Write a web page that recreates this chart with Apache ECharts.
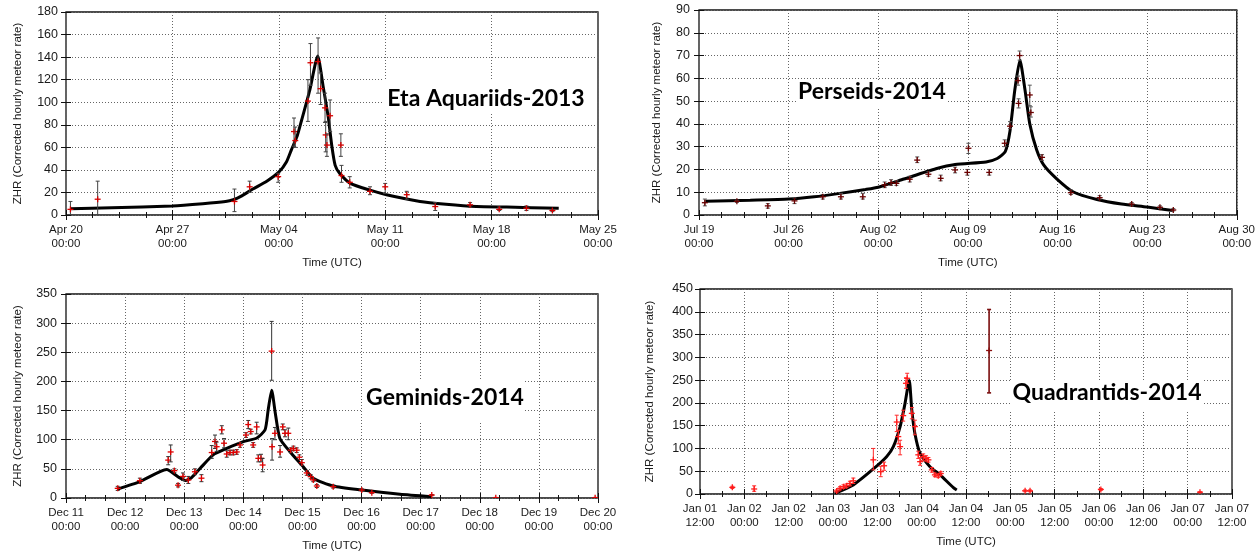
<!DOCTYPE html>
<html>
<head>
<meta charset="utf-8">
<script src="https://cdn.jsdelivr.net/npm/echarts/dist/echarts.min.js"></script>
<style>
html,body{margin:0;padding:0;background:#fff;}
#chart{width:1258px;height:553px;}
</style>
</head>
<body>
<div id="chart"></div>
<script>
// ---------------- DATA ----------------
// Eta Aquariids 2013
const etaCurveTime = ['2013-04-20 07:00','2013-04-23 00:00','2013-04-27 00:00','2013-04-29 00:00','2013-04-30 12:00','2013-05-01 00:00','2013-05-01 12:00','2013-05-02 07:00','2013-05-03 05:00','2013-05-04 00:00','2013-05-04 12:00','2013-05-04 20:00','2013-05-05 05:00','2013-05-05 12:00','2013-05-06 01:00','2013-05-06 13:30','2013-05-06 22:00','2013-05-07 06:00','2013-05-07 12:00','2013-05-07 17:00','2013-05-08 00:00','2013-05-08 17:00','2013-05-10 00:00','2013-05-11 02:00','2013-05-13 07:00','2013-05-15 00:00','2013-05-17 00:00','2013-05-19 00:00','2013-05-22 10:00'];
const etaCurveZHR = [5.5,6.5,8,10,12,13.5,16.5,23,30,38,47,58,70,84,111,141,114,87,60,44,37,28,22,18,12,9.5,7.5,7,6];
const etaObsTime = ['2013-04-20 07:00','2013-04-22 02:00','2013-05-01 02:00','2013-05-02 02:00','2013-05-03 23:00','2013-05-05 00:00','2013-05-05 02:00','2013-05-05 22:00','2013-05-06 02:00','2013-05-06 14:00','2013-05-06 18:00','2013-05-07 01:00','2013-05-07 02:00','2013-05-07 04:00','2013-05-07 09:00','2013-05-08 02:00','2013-05-08 03:00','2013-05-08 16:00','2013-05-10 00:00','2013-05-11 00:00','2013-05-12 10:00','2013-05-14 07:00','2013-05-16 14:00','2013-05-18 12:00','2013-05-20 07:00','2013-05-22 00:00'];
const etaObsZHR  = [5,14,12,25,34,74,66,101,135,136,112,95,71,62,88,62,35,29,21,25,18,7.5,9,5,6,4];
const etaObsLow  = [0,0,3,20,29,61,60,83,115,108,98,82,56,52,74,52,29,24,18,19,14,4,7,4,4,3];
const etaObsHigh = [12,30,23,30,37,86,78,120,152,157,126,108,83,72,102,72,44,34,25,28,21,11,11,7,8,5];

// Perseids 2014
const perCurveTime = ['2014-07-19 12:00','2014-07-23 00:00','2014-07-26 00:00','2014-07-28 00:00','2014-07-30 00:00','2014-08-01 00:00','2014-08-02 00:00','2014-08-04 00:00','2014-08-06 12:00','2014-08-08 00:00','2014-08-10 10:00','2014-08-11 07:00','2014-08-11 22:00','2014-08-12 07:00','2014-08-12 16:00','2014-08-13 01:30','2014-08-13 11:00','2014-08-13 20:00','2014-08-14 09:00','2014-08-14 22:00','2014-08-15 22:00','2014-08-17 05:00','2014-08-19 02:00','2014-08-21 00:00','2014-08-23 00:00','2014-08-25 00:00'];
const perCurveZHR = [6,6.5,7,8,9.5,11.2,12.2,15.8,20.3,22.2,23.3,24.8,27.8,37,55,68,55,40,28.5,22,16,10.2,6.8,4.8,3.5,2];
const perObsTime = ['2014-07-19 11:00','2014-07-21 23:00','2014-07-24 09:00','2014-07-26 11:00','2014-07-28 16:00','2014-07-30 02:00','2014-07-31 19:00','2014-08-02 12:00','2014-08-03 00:00','2014-08-03 10:00','2014-08-04 11:00','2014-08-05 01:00','2014-08-05 22:00','2014-08-06 21:00','2014-08-08 00:00','2014-08-08 23:00','2014-08-09 01:00','2014-08-10 16:00','2014-08-11 21:00','2014-08-12 07:00','2014-08-12 22:00','2014-08-12 23:00','2014-08-13 01:00','2014-08-13 20:00','2014-08-13 22:00','2014-08-14 19:00','2014-08-17 01:00','2014-08-19 07:00','2014-08-21 19:00','2014-08-24 00:00','2014-08-25 01:00'];
const perObsZHR  = [5.4,6,4,6.2,8,8,8,13.2,14.2,13.9,15.7,24.1,17.9,16.1,19.8,18.7,29.3,18.7,31.5,39,59,49,70,52.7,45,25.3,9.8,7.6,4.8,3.4,2.2];
const perObsLow  = [4,5.5,3,5,7,7,7,12,13,13,14.5,23,17,15,18.5,17.5,27,17.5,30,38,57,47,68,48,43,24,9,7,4,2.8,1.8];
const perObsHigh = [7,6.5,5,7.5,9,9.5,9.5,14.5,15.5,15,17,25.5,19,17.5,21,20,31.5,20,33,41,61,51,72,57,47.5,26.5,11,8.5,5.5,4,2.8];

// Geminids 2014
const gemCurveTime = ['2014-12-11 20:40','2014-12-12 06:00','2014-12-12 16:50','2014-12-12 22:00','2014-12-13 00:30','2014-12-13 03:00','2014-12-13 06:30','2014-12-13 11:45','2014-12-13 17:15','2014-12-14 00:00','2014-12-14 05:30','2014-12-14 08:50','2014-12-14 10:05','2014-12-14 11:30','2014-12-14 13:00','2014-12-14 14:50','2014-12-14 19:00','2014-12-15 00:15','2014-12-15 04:20','2014-12-15 12:30','2014-12-15 23:15','2014-12-16 15:35','2014-12-17 04:30'];
const gemCurveZHR = [15,28,49,35,30,35,51,74,85,96.6,103,117,151,185,145,102,79,54,34,20.6,14,6.3,2.3];
const gemObsTime = ['2014-12-11 21:00','2014-12-12 06:00','2014-12-12 17:30','2014-12-12 18:30','2014-12-12 20:00','2014-12-12 21:30','2014-12-12 23:30','2014-12-13 01:40','2014-12-13 04:20','2014-12-13 07:00','2014-12-13 11:10','2014-12-13 12:30','2014-12-13 13:10','2014-12-13 15:15','2014-12-13 16:10','2014-12-13 17:15','2014-12-13 18:35','2014-12-13 19:55','2014-12-13 21:20','2014-12-13 22:40','2014-12-14 01:05','2014-12-14 02:00','2014-12-14 03:00','2014-12-14 04:00','2014-12-14 05:25','2014-12-14 06:05','2014-12-14 07:10','2014-12-14 07:50','2014-12-14 11:30','2014-12-14 11:40','2014-12-14 12:50','2014-12-14 14:55','2014-12-14 16:00','2014-12-14 16:55','2014-12-14 18:15','2014-12-14 19:15','2014-12-14 20:20','2014-12-14 21:40','2014-12-14 22:45','2014-12-14 23:45','2014-12-15 01:45','2014-12-15 03:20','2014-12-15 04:25','2014-12-15 05:50','2014-12-15 12:30','2014-12-16 00:05','2014-12-16 04:10','2014-12-17 04:30','2014-12-18 06:30','2014-12-19 22:50'];
const gemObsZHR  = [16.6,29.7,65,79,47,22,37,31,45,34,78,97,88,117,94,75.5,78,78,79,91,108,126,114,91,122,68,68,56.6,252,88,111,79,122,111,111,82,85,82,70,60.6,43,36.6,31,20.6,19.4,13.7,9.1,5.1,0.5,0.5];
const gemObsLow  = [13,25,57,62,44,19,30,25,40,28,68,85,80,110,86,70,74,74,75,87,104,119,110,87,110,62,62,45,202,65,100,70,117,105,100,78,81,78,66,56,39,33,28,18,17,12,8,4,0,0];
const gemObsHigh = [20,34,71,91,50,25,43,37,50,40,90,108,96,124,102,81,82,82,83,95,112,133,118,95,130,74,75,68,303,102,121,90,127,117,120,86,89,86,74,66,47,40,34,23,22,15.5,10.5,6,1,1];

// Quadrantids 2014
const quaCurveTime = ['2014-01-03 00:30','2014-01-03 05:30','2014-01-03 10:55','2014-01-03 14:30','2014-01-03 16:20','2014-01-03 18:10','2014-01-03 19:30','2014-01-03 20:20','2014-01-03 20:40','2014-01-03 21:20','2014-01-03 22:10','2014-01-03 23:35','2014-01-04 02:15','2014-01-04 05:00','2014-01-04 08:35','2014-01-04 09:30'];
const quaCurveZHR = [1.5,20,55,82,104,148,199,239,249,184,133,89,60,42,14,9];
const quaObsTime = ['2014-01-01 20:45','2014-01-02 02:40','2014-01-03 01:00','2014-01-03 01:55','2014-01-03 02:50','2014-01-03 03:40','2014-01-03 04:35','2014-01-03 05:30','2014-01-03 10:55','2014-01-03 12:55','2014-01-03 13:50','2014-01-03 17:15','2014-01-03 17:40','2014-01-03 18:10','2014-01-03 19:00','2014-01-03 19:45','2014-01-03 20:05','2014-01-03 21:20','2014-01-03 22:10','2014-01-03 23:05','2014-01-03 23:35','2014-01-04 00:25','2014-01-04 01:10','2014-01-04 01:50','2014-01-04 02:45','2014-01-04 03:35','2014-01-04 04:30','2014-01-04 05:10','2014-01-05 04:00','2014-01-05 05:20','2014-01-06 00:30','2014-01-07 03:20'];
const quaObsZHR  = [14.6,11,6.6,12.5,16,18,23,29,75,49,62,158,126,104,172,243,254,177,148,86,71,82,78,75,53,42,40,45,7,7,10,4];
const quaObsLow  = [12,6,4,9,12,14,18,23,53,38,52,137,110,86,160,232,243,165,130,78,63,74,72,70,48,38,36,41,5,5,8,3];
const quaObsHigh = [17,18,9,16,20,22,28,35,100,61,70,173,140,118,184,255,265,190,162,94,80,88,84,80,58,46,44,49,9,9,12,5];
const quaOutlierTime = ['2014-01-04 18:15'];
const quaOutlierZHR  = [315];
const quaOutlierLow  = [222];
const quaOutlierHigh = [405];

// Axis setup values
const panelStart = ['2013-04-20 00:00','2014-07-19 00:00','2014-12-11 00:00','2014-01-01 12:00'];
const panelSpanDays = [35, 42, 9, 6];
const panelTickDays = [7, 7, 1, 0.5];
const panelYMax = [180, 90, 350, 450];
const panelYStep = [20, 10, 50, 50];
const panelTitles = ['Eta Aquariids-2013','Perseids-2014','Geminids-2014','Quadrantids-2014'];
const yName = 'ZHR (Corrected hourly meteor rate)';
const xName = 'Time (UTC)';

// ---------------- BUILD ----------------
const DAY = 86400000;
const MON = ['Jan','Feb','Mar','Apr','May','Jun','Jul','Aug','Sep','Oct','Nov','Dec'];
const ms = s => Date.parse(s.replace(' ', 'T') + ':00Z');
const pad = n => (n < 10 ? '0' : '') + n;

const grids = [
  {left: 66, top: 12, width: 532, height: 203},
  {left: 699, top: 10, width: 538, height: 205},
  {left: 66, top: 294, width: 532, height: 204},
  {left: 700, top: 289, width: 532, height: 205}
];
const yNameGap = [42, 36, 42, 44];
const yLabelMargin = [8, 9, 9, 7];
const minorSplit = [4, 4, 3, 2];

const FONT = 'Liberation Sans';
const txt = '#1a1a1a';

const xAxes = [], yAxes = [], series = [];
grids.forEach((g, p) => {
  g.show = true; g.borderColor = '#111'; g.borderWidth = 1.3; g.backgroundColor = '#fff';
  const t0 = ms(panelStart[p]);
  const fmt = v => {
    const d = new Date(t0 + Math.round(v * DAY));
    return MON[d.getUTCMonth()] + ' ' + pad(d.getUTCDate()) + '\n' + pad(d.getUTCHours()) + ':' + pad(d.getUTCMinutes());
  };
  const common = {
    type: 'value', gridIndex: p, min: 0, max: panelSpanDays[p], interval: panelTickDays[p]
  };
  xAxes.push(Object.assign({}, common, {
    position: 'bottom',
    name: xName, nameLocation: 'middle', nameGap: 42,
    nameTextStyle: {fontFamily: FONT, fontSize: 11.5, color: txt},
    axisLine: {show: false},
    axisTick: {show: true, inside: true, length: 5, lineStyle: {color: '#111'}},
    minorTick: {show: true, splitNumber: minorSplit[p], length: 3, lineStyle: {color: '#111'}},
    axisLabel: {formatter: fmt, fontFamily: FONT, fontSize: 11.5, color: txt, margin: 8, lineHeight: 14},
    splitLine: {show: true, lineStyle: {color: '#666', type: [1, 2], width: 1}}
  }));
  xAxes.push(Object.assign({}, common, {
    position: 'top',
    axisLine: {show: false},
    axisTick: {show: true, inside: true, length: 5, lineStyle: {color: '#111'}},
    minorTick: {show: true, splitNumber: minorSplit[p], length: 3, lineStyle: {color: '#111'}},
    axisLabel: {show: false},
    splitLine: {show: false}
  }));
  const ycommon = {type: 'value', gridIndex: p, min: 0, max: panelYMax[p], interval: panelYStep[p]};
  yAxes.push(Object.assign({}, ycommon, {
    position: 'left',
    name: yName, nameLocation: 'middle', nameGap: yNameGap[p],
    nameTextStyle: {fontFamily: FONT, fontSize: 11.5, color: txt},
    axisLine: {show: false},
    axisTick: {show: true, inside: true, length: 5, lineStyle: {color: '#111'}},
    axisLabel: {fontFamily: FONT, fontSize: 12.5, color: txt, margin: yLabelMargin[p]},
    splitLine: {show: true, lineStyle: {color: '#666', type: [1, 2], width: 1}}
  }));
  yAxes.push(Object.assign({}, ycommon, {
    position: 'right',
    axisLine: {show: false},
    axisTick: {show: true, inside: true, length: 5, lineStyle: {color: '#111'}},
    axisLabel: {show: false},
    splitLine: {show: false}
  }));
});

function curveData(times, vals, p) {
  const t0 = ms(panelStart[p]);
  return times.map((t, i) => [(ms(t) - t0) / DAY, vals[i]]);
}
function obsData(times, vals, lo, hi, p) {
  const t0 = ms(panelStart[p]);
  return times.map((t, i) => [(ms(t) - t0) / DAY, vals[i], lo[i], hi[i]]);
}
function errRender(markColor, barColor, barWidth) {
  return function (params, api) {
    const x = api.value(0);
    const c = api.coord([x, api.value(1)]);
    const l = api.coord([x, api.value(2)]);
    const h = api.coord([x, api.value(3)]);
    const bs = {stroke: barColor, lineWidth: barWidth};
    const ms2 = {stroke: markColor, lineWidth: 1.3};
    return {
      type: 'group',
      children: [
        {type: 'line', shape: {x1: c[0], y1: h[1], x2: c[0], y2: l[1]}, style: bs},
        {type: 'line', shape: {x1: c[0] - 2, y1: h[1], x2: c[0] + 2, y2: h[1]}, style: bs},
        {type: 'line', shape: {x1: c[0] - 2, y1: l[1], x2: c[0] + 2, y2: l[1]}, style: bs},
        {type: 'line', shape: {x1: c[0] - 3, y1: c[1], x2: c[0] + 3, y2: c[1]}, style: ms2},
        {type: 'line', shape: {x1: c[0], y1: c[1] - 3, x2: c[0], y2: c[1] + 3}, style: ms2}
      ]
    };
  };
}
function addPanel(p, cT, cV, oT, oV, oL, oH, mark, bar) {
  series.push({
    type: 'line', xAxisIndex: 2 * p, yAxisIndex: 2 * p,
    data: curveData(cT, cV, p), showSymbol: false, symbol: 'none',
    smooth: 0.2,
    lineStyle: {color: '#000', width: 3}, z: 3, silent: true
  });
  series.push({
    type: 'custom', xAxisIndex: 2 * p, yAxisIndex: 2 * p, clip: true,
    data: obsData(oT, oV, oL, oH, p), renderItem: errRender(mark, bar, 1),
    encode: {x: 0, y: [1, 2, 3]}, z: 4, silent: true
  });
}
addPanel(0, etaCurveTime, etaCurveZHR, etaObsTime, etaObsZHR, etaObsLow, etaObsHigh, '#d40000', '#444');
addPanel(1, perCurveTime, perCurveZHR, perObsTime, perObsZHR, perObsLow, perObsHigh, '#6a0000', '#555');
addPanel(2, gemCurveTime, gemCurveZHR, gemObsTime, gemObsZHR, gemObsLow, gemObsHigh, '#e00000', '#333');
addPanel(3, quaCurveTime, quaCurveZHR, quaObsTime, quaObsZHR, quaObsLow, quaObsHigh, '#ff1a1a', '#ff2a2a');
series.push({
  type: 'custom', xAxisIndex: 6, yAxisIndex: 6, clip: true,
  data: obsData(quaOutlierTime, quaOutlierZHR, quaOutlierLow, quaOutlierHigh, 3),
  renderItem: errRender('#8b1010', '#7a0d0d', 1.6),
  encode: {x: 0, y: [1, 2, 3]}, z: 4, silent: true
});

// title boxes (white background labels)
const boxes = [
  {x: 383, y: 79, w: 214, h: 35, cx: 486, cy: 99},
  {x: 797, y: 80, w: 151, h: 27, cx: 872, cy: 92},
  {x: 363, y: 380, w: 162, h: 43, cx: 445, cy: 398},
  {x: 1010, y: 380, w: 194, h: 30, cx: 1107, cy: 393}
];
const graphic = [];
boxes.forEach((b, i) => {
  graphic.push({type: 'rect', z: 50, shape: {x: b.x, y: b.y, width: b.w, height: b.h}, style: {fill: '#fff'}, silent: true});
  graphic.push({type: 'text', z: 51, x: b.cx, y: b.cy, style: {text: panelTitles[i], font: 'bold 23px Lato', fill: '#000', textAlign: 'center', textVerticalAlign: 'middle'}, silent: true});
});

const chart = echarts.init(document.getElementById('chart'), null, {renderer: 'canvas'});
chart.setOption({
  animation: false,
  backgroundColor: '#fff',
  grid: grids,
  xAxis: xAxes,
  yAxis: yAxes,
  series: series,
  graphic: graphic
});
</script>
</body>
</html>
